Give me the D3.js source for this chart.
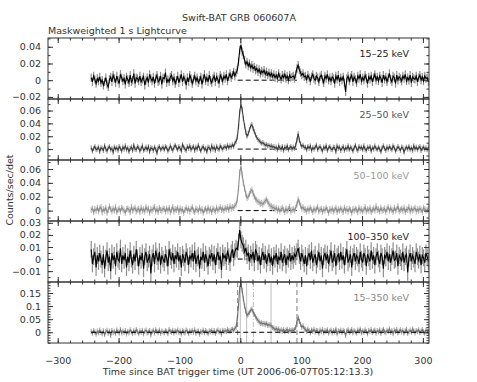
<!DOCTYPE html>
<html><head><meta charset="utf-8">
<script src="https://cdn.jsdelivr.net/npm/d3@7"></script>
<style>body{margin:0;background:#fff} svg text{font-family:"DejaVu Sans",sans-serif}</style>
</head><body><svg id="c" width="477" height="382"></svg>
<script>
// time bins (s since trigger), one value per 2-s bin
const times = d3.range(-245, 310, 2);

// rates in units of 0.001 counts/sec/det
const band15_25 = [
3,-2,5,1,-4,2,-1,4,-3,0, -6,-2,3,-5,-8,1,4,-2,6,2, -3,5,0,-4,7,3,-1,2,-5,4, 1,-3,6,-2,0,8,-4,3,2,-1,
5,-2,1,4,-6,0,3,-3,7,2, -1,4,-4,2,6,-2,0,5,-5,3, 2,9,-3,1,-2,4,6,-1,3,-4, 0,5,-3,2,7,-2,4,1,-6,3,
-2,6,2,-4,1,5,-1,3,-3,0, 4,-5,2,7,-1,3,-2,6,0,-3, 2,5,-2,4,1,-4,6,3,-1,5, 2,7,-1,4,8,3,6,10,5,9,
12,22,36,42,34,30,24,19,22,17, 20,15,18,14,16,12,14,10,13,8, 11,9,12,7,10,6,9,5,8,4,
7,3,6,2,8,4,1,6,3,7,2,5,0,6,3,4,
5,2,7,14,18,12,9,6,8,4,
5,1,6,3,-1,4,7,2,0,5, 3,-2,4,6,1,-3,5,2,7,0, 3,-1,4,2,-4,5,1,6,-2,3, 0,4,-3,-14,2,5,-1,3,6,-2,
4,1,-3,5,2,7,-1,3,0,6, 2,-4,4,1,5,-2,3,7,0,4, -1,5,2,-3,6,1,4,-2,3,8, 1,-2,5,3,-4,6,0,4,2,-1,
5,2,7,-1,3,0,6,-3,4,2, 1,5,-2,3,6,0,4,-1,5,2, 3,-2];
const band25_50 = [
2,-3,1,4,-1,0,3,-4,2,1, -2,5,0,-3,2,4,-1,1,-5,3, 0,2,-2,4,1,-3,3,0,5,-1, 2,-4,1,3,-2,6,0,-1,4,2,
-3,1,5,-2,0,3,-1,4,-4,2, 1,-2,3,0,-6,2,4,-1,1,3, -1,4,2,-3,0,5,1,-2,3,6, 2,-1,4,1,-3,7,3,0,-2,4,
1,5,-1,2,4,-2,3,0,6,1, -3,2,4,-1,1,-4,3,2,-2,5, 0,3,-2,4,1,-1,5,2,0,3, 4,1,6,2,5,3,7,4,9,12,
18,35,58,70,62,48,36,26,20,24, 30,36,38,32,27,22,18,15,13,11, 9,10,8,6,7,5,6,4,5,3,
4,1,3,-1,5,2,0,4,-2,3,1,5,-1,2,4,0,
3,1,6,14,24,14,8,4,6,2,
3,-1,4,1,5,-2,2,0,3,6, -1,2,4,0,-3,3,1,5,-2,2, 4,0,-1,3,2,-4,5,1,3,-2, 1,4,-2,2,0,5,-1,3,1,-3,
2,6,0,-2,4,1,3,-1,5,0, -2,3,1,4,-3,2,0,5,1,-1, 3,0,-4,2,5,1,-2,3,0,4, 1,-1,5,2,-3,0,4,1,-2,3,
2,-5,1,3,0,4,-1,2,-2,5, 0,3,-1,2,4,-2,1,3,0,2, -1,3];
const band50_100 = [
1,3,-2,2,0,4,-1,3,5,-2, 2,0,4,-3,1,6,2,-1,3,0, 5,-2,1,3,-1,4,2,0,-3,2, 3,1,-2,5,0,2,4,-1,1,3,
-2,4,0,2,-1,5,1,3,-3,2, 0,3,5,-1,2,-2,4,1,0,3, 2,-1,3,0,4,-2,1,5,-1,2, 1,4,-2,3,0,2,-3,1,4,0,
3,-1,2,5,0,-2,3,1,-1,4, 0,2,-3,1,3,-1,4,0,2,-2, 3,1,-1,4,0,2,5,1,3,0, 4,2,5,1,6,3,5,4,7,9,
16,32,55,64,52,40,32,24,18,20, 24,28,30,25,20,17,15,13,12,10, 11,9,12,14,16,13,10,7,6,4,
5,2,4,0,3,-1,2,4,1,-2,3,0,2,5,-1,1,
2,0,4,9,16,12,7,3,5,1,
2,-1,3,0,4,1,-2,3,0,2, 5,-1,1,3,-2,2,0,4,1,-3, 2,0,3,-1,1,4,-2,2,0,3, 1,-2,4,0,2,-1,3,1,-3,2,
0,3,1,-2,4,0,2,-1,1,5, -1,2,0,4,-2,1,3,0,6,1, 2,-1,4,0,1,3,-2,2,5,0, 3,1,-2,4,0,2,6,-1,1,3,
0,4,-2,2,1,5,-1,3,0,2, 4,-1,2,0,3,1,-2,4,2,0, 1,3];
const band100_350 = [
8,-4,2,6,-7,3,-2,5,0,-5, 4,-8,1,7,-3,2,-10,5,-1,3, -6,6,0,-2,9,-4,3,-1,5,-7, 2,-3,7,0,-5,4,-2,8,1,-6,
3,-1,5,-8,2,6,-3,0,4,-12, 1,5,-4,7,2,-2,6,-5,3,0, -3,4,1,-6,8,2,-1,5,-4,3, 0,6,-2,3,-7,4,1,-3,6,2,
-5,3,0,5,-2,7,-4,1,3,-8, 2,-1,6,-3,4,0,-6,3,1,5, -2,4,-5,2,6,-1,3,-9,5,1, 3,-2,7,2,-3,5,8,1,6,9,
8,14,24,16,13,11,6,9,3,5, -2,4,1,6,-3,8,5,-2,3,-5, 2,6,-1,4,-4,1,5,-3,2,-6,
3,0,5,-4,2,-1,6,-3,1,4,-5,2,0,5,-2,3,
-1,4,2,6,9,3,-2,5,1,-4,
3,-6,2,5,-1,7,-3,1,4,-5, 0,6,-2,3,-8,2,5,-1,4,-4, 1,7,-3,0,5,-6,2,4,-2,6, -1,3,-5,2,8,-3,0,4,-7,2,
5,-2,3,1,-4,6,0,-3,5,2, -6,4,1,-2,7,-1,3,-5,2,6, 0,-4,5,2,-8,3,1,6,-2,4, -3,2,7,-1,0,5,-6,3,1,-2,
6,-3,2,4,-11,1,5,-2,3,0, -4,6,2,-1,4,-5,3,1,-3,5, 2,-2];
const band15_350 = [
3,-4,6,1,-7,4,-2,8,0,-5, 5,-9,2,7,-3,4,-12,6,-1,3, -5,8,2,-3,10,-2,4,0,6,-6, 3,-2,9,1,-4,6,-1,10,2,-5,
5,0,7,-6,3,8,-2,1,6,-10, 2,7,-3,9,3,-1,8,-4,4,1, -2,6,2,-5,10,3,0,7,-3,5, 1,8,-1,4,-6,6,2,-2,8,3,
-4,5,1,7,-1,9,-3,2,5,-7, 3,0,8,-2,6,1,-5,5,2,7, -1,6,-4,4,8,1,5,-7,7,3, 6,2,10,5,3,9,12,7,14,20,
52,100,170,185,160,128,100,80,64,70, 76,84,88,78,68,60,52,45,40,34, 36,32,34,30,34,26,29,28,24,18,
16,10,14,8,12,5,9,4,10,2,7,11,3,8,5,9,
6,10,18,40,56,42,30,20,24,14,
10,4,12,6,-2,9,3,11,1,7, 5,-4,8,2,10,-1,6,3,9,-3, 4,8,-2,6,1,11,-5,5,2,8, -1,7,3,-12,5,9,0,4,10,-2,
6,1,-3,8,4,12,-2,5,0,9, 3,-6,7,2,10,-1,4,8,-3,6, 1,9,-4,5,11,2,-1,7,3,13, 0,6,-5,8,3,10,-2,4,9,1,
7,-3,5,11,-4,2,8,0,12,5, -2,6,3,9,-1,4,10,2,-3,8, 5,0];

const bandSeries = [band15_25, band25_50, band50_100, band100_350, band15_350];
const bandLabels = ["15–25 keV", "25–50 keV", "50–100 keV", "100–350 keV", "15–350 keV"];
const bandErrMilli = [5, 4, 4.5, 7, 10];
const yDomains = [[-0.0225, 0.0505], [-0.017, 0.078], [-0.015, 0.073], [-0.019, 0.0315], [-0.041, 0.192]];
const yMajorTicks = [[-0.02, 0, 0.02, 0.04], [0, 0.02, 0.04, 0.06], [0, 0.02, 0.04, 0.06], [-0.01, 0, 0.01, 0.02, 0.03], [0, 0.05, 0.1, 0.15]];
const yMinorStep = [0.01, 0.01, 0.01, 0.005, 0.01];
const xMajorTicks = [-300, -200, -100, 0, 100, 200, 300];
const xMinorTicks = d3.range(-300, 301, 20);
const t90Bounds = [-4.4, 93];
const t50Bounds = [0, 10.4, 50.5];
const peakMarks = [21.4];

// styles
const lineColors = ["#000", "#3a3a3a", "#8c8c8c", "#000", "#6e6e6e"];
const errColors = ["#8e8e8e", "#a0a0a0", "#bcbcbc", "#8e8e8e", "#acacac"];
const labelColors = ["#222", "#555", "#999", "#222", "#888"];

const svg = d3.select("#c");
const L = 48, R = 429, top0 = 38, ph = 61;
const x = d3.scaleLinear().domain([-316, 310]).range([L, R]);
const fmt = d => d === 0 ? "0" : d3.format("~g")(d);

svg.append("text").attr("x", 239).attr("y", 21).attr("text-anchor", "middle")
  .attr("font-size", 9.5).attr("fill", "#333").text("Swift-BAT GRB 060607A");
svg.append("text").attr("x", 48).attr("y", 34).attr("font-size", 9.5).attr("fill", "#333")
  .text("Maskweighted 1 s Lightcurve");
svg.append("text").attr("transform", "translate(13,190) rotate(-90)").attr("text-anchor", "middle")
  .attr("font-size", 9.5).attr("fill", "#333").text("Counts/sec/det");
svg.append("text").attr("x", 238).attr("y", 375).attr("text-anchor", "middle")
  .attr("font-size", 9.5).attr("fill", "#333").text("Time since BAT trigger time (UT 2006-06-07T05:12:13.3)");

bandSeries.forEach((vals, k) => {
  const t = top0 + k * ph, b = t + ph;
  const y = d3.scaleLinear().domain(yDomains[k]).range([b, t]);
  const data = times.map((tt, i) => ({t: tt, v: vals[i] * 1e-3, e: bandErrMilli[k] * 1e-3}));
  const g = svg.append("g");
  const cid = "clip" + k;
  svg.append("clipPath").attr("id", cid).append("rect").attr("x", L).attr("y", t).attr("width", R - L).attr("height", ph);
  const pg = g.append("g").attr("clip-path", `url(#${cid})`);

  if (k === 4) {
    t50Bounds.forEach(v => pg.append("line").attr("x1", x(v)).attr("x2", x(v)).attr("y1", t).attr("y2", b)
      .attr("stroke", "#bdbdbd").attr("stroke-width", 1));
    peakMarks.forEach(v => pg.append("line").attr("x1", x(v)).attr("x2", x(v)).attr("y1", t).attr("y2", b)
      .attr("stroke", "#bdbdbd").attr("stroke-width", 1).attr("stroke-dasharray", "5,2,1,2"));
    t90Bounds.forEach(v => pg.append("line").attr("x1", x(v)).attr("x2", x(v)).attr("y1", t).attr("y2", b)
      .attr("stroke", "#808080").attr("stroke-width", 1).attr("stroke-dasharray", "5,3"));
  }
  const zeroLine = (a, z) => pg.append("line").attr("x1", x(a)).attr("x2", x(z)).attr("y1", y(0)).attr("y2", y(0))
      .attr("stroke", "#000").attr("stroke-width", 1).attr("stroke-dasharray", "5,3");
  if (k !== 4) zeroLine(t90Bounds[0], t90Bounds[1]);

  pg.selectAll("line.err").data(data).join("line").attr("class", "err")
    .attr("x1", d => x(d.t)).attr("x2", d => x(d.t))
    .attr("y1", d => y(d.v - d.e)).attr("y2", d => y(d.v + d.e))
    .attr("stroke", errColors[k]).attr("stroke-width", 1.2);
  pg.append("path").datum(data)
    .attr("d", d3.line().x(d => x(d.t)).y(d => y(d.v)))
    .attr("fill", "none").attr("stroke", lineColors[k]).attr("stroke-width", 1.1);
  if (k === 4) zeroLine(times[0], times[times.length - 1]);

  // axes
  const lo = yDomains[k][0], hi = yDomains[k][1], st = yMinorStep[k];
  const minors = d3.range(Math.ceil(lo / st - 1e-9), Math.floor(hi / st + 1e-9) + 1).map(i => +(i * st).toFixed(4));
  const clean = s => s.select(".domain").remove();
  const tickStyle = s => s.selectAll("line").attr("stroke", "#333");
  g.append("g").attr("transform", `translate(${L},0)`)
    .call(d3.axisLeft(y).tickValues(minors).tickSize(-2.5).tickFormat("")).call(clean).call(tickStyle);
  const la = g.append("g").attr("transform", `translate(${L},0)`)
    .call(d3.axisLeft(y).tickValues(yMajorTicks[k]).tickSize(-5).tickPadding(7).tickFormat(fmt)).call(clean).call(tickStyle);
  la.selectAll("text").attr("font-size", 9.5).attr("fill", "#333").style("font-family", '"DejaVu Sans",sans-serif');
  g.append("g").attr("transform", `translate(${R},0)`)
    .call(d3.axisRight(y).tickValues(minors).tickSize(-2.5).tickFormat("")).call(clean).call(tickStyle);
  g.append("g").attr("transform", `translate(${R},0)`)
    .call(d3.axisRight(y).tickValues(yMajorTicks[k]).tickSize(-5).tickFormat("")).call(clean).call(tickStyle);
  g.append("g").attr("transform", `translate(0,${t})`)
    .call(d3.axisTop(x).tickValues(xMinorTicks).tickSize(-2.5).tickFormat("")).call(clean).call(tickStyle);
  g.append("g").attr("transform", `translate(0,${t})`)
    .call(d3.axisTop(x).tickValues(xMajorTicks).tickSize(-5).tickFormat("")).call(clean).call(tickStyle);
  g.append("g").attr("transform", `translate(0,${b})`)
    .call(d3.axisBottom(x).tickValues(xMinorTicks).tickSize(-2.5).tickFormat("")).call(clean).call(tickStyle);
  const ba = g.append("g").attr("transform", `translate(0,${b})`)
    .call(d3.axisBottom(x).tickValues(xMajorTicks).tickSize(-5).tickPadding(14).tickFormat(k === 4 ? fmt : ""))
    .call(clean).call(tickStyle);
  ba.selectAll("text").attr("font-size", 9.5).attr("fill", "#333").style("font-family", '"DejaVu Sans",sans-serif');

  g.append("rect").attr("x", L).attr("y", t).attr("width", R - L).attr("height", ph)
    .attr("fill", "none").attr("stroke", "#333").attr("stroke-width", 1);
  g.append("text").attr("x", 409).attr("y", t + 18.5).attr("text-anchor", "end")
    .attr("font-size", 9.5).attr("fill", labelColors[k]).text(bandLabels[k]);
});
</script></body></html>
